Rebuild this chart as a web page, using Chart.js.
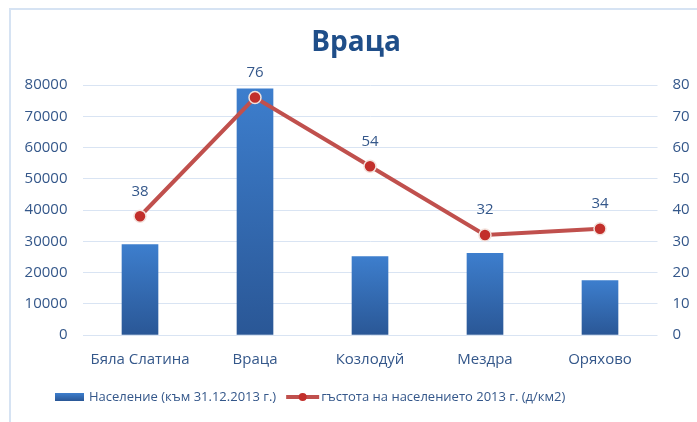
<!DOCTYPE html>
<html>
<head>
<meta charset="utf-8">
<script src="https://cdn.jsdelivr.net/npm/chart.js@4.4.1/dist/chart.umd.min.js"></script>
<style>
html,body{margin:0;padding:0;background:#fff;}
#wrap{width:697px;height:422px;position:relative;}
</style>
</head>
<body>
<div id="wrap"><canvas id="c" width="697" height="422"></canvas></div>
<script>
const title = 'Враца';
const categories = ['Бяла Слатина', 'Враца', 'Козлодуй', 'Мездра', 'Оряхово'];
const population = [28900, 78800, 25100, 26100, 17400];
const density = [38, 76, 54, 32, 34];
const populationLabel = 'Население (към 31.12.2013 г.)';
const densityLabel = 'гъстота на населението 2013 г. (д/км2)';
const leftTicks = [0, 10000, 20000, 30000, 40000, 50000, 60000, 70000, 80000];
const rightTicks = [0, 10, 20, 30, 40, 50, 60, 70, 80];

const FONT = '"Open Sans", "Noto Sans", sans-serif';
const TEXT = '#34578a';
const LINE = '#c0504d';

function barGradient(ctx) {
  const chart = ctx.chart;
  const area = chart.chartArea;
  if (!area || ctx.dataIndex === undefined) return '#3570b8';
  const y = chart.scales.y;
  const top = y.getPixelForValue(population[ctx.dataIndex]);
  const bottom = y.getPixelForValue(0);
  const g = chart.ctx.createLinearGradient(0, top, 0, bottom);
  g.addColorStop(0, '#3d7ecd');
  g.addColorStop(1, '#2a5796');
  return g;
}

const extras = {
  id: 'extras',
  afterDraw(chart) {
    const c = chart.ctx;
    c.save();
    // frame
    c.strokeStyle = '#d6e3f3';
    c.lineWidth = 2;
    c.beginPath();
    c.moveTo(10, 422); c.lineTo(10, 9); c.lineTo(697, 9);
    c.stroke();
    // title
    c.fillStyle = '#1f4e89';
    c.font = 'bold 28px ' + FONT;
    c.textAlign = 'center';
    c.textBaseline = 'middle';
    c.fillText(title, 356, 43);
    // data labels
    const meta = chart.getDatasetMeta(1);
    c.font = '15px ' + FONT;
    c.fillStyle = TEXT;
    meta.data.forEach((pt, i) => {
      c.fillText(String(density[i]), pt.x, pt.y - 25);
    });
    // legend
    const ly = 397;
    const g = c.createLinearGradient(0, ly - 4, 0, ly + 4);
    g.addColorStop(0, '#3d7ecd'); g.addColorStop(1, '#2a5796');
    c.fillStyle = g;
    c.fillRect(55, ly - 4, 29, 8);
    c.textAlign = 'left';
    c.font = '13px ' + FONT;
    c.fillStyle = TEXT;
    let x = 89;
    c.fillText(populationLabel, x, ly);
    x += c.measureText(populationLabel).width + 10;
    c.strokeStyle = LINE;
    c.lineWidth = 4;
    c.beginPath(); c.moveTo(x, ly); c.lineTo(x + 33, ly); c.stroke();
    c.beginPath(); c.arc(x + 16.5, ly, 4, 0, Math.PI * 2);
    c.fillStyle = '#c22f2b'; c.fill();
    c.fillStyle = TEXT;
    c.fillText(densityLabel, x + 35, ly);
    c.restore();
  }
};

new Chart(document.getElementById('c'), {
  data: {
    labels: categories,
    datasets: [
      {
        type: 'bar',
        label: populationLabel,
        data: population,
        yAxisID: 'y',
        backgroundColor: barGradient,
        barThickness: 36,
        order: 2
      },
      {
        type: 'line',
        label: densityLabel,
        data: density,
        yAxisID: 'y1',
        borderColor: LINE,
        borderWidth: 4,
        pointRadius: 6,
        pointHoverRadius: 6,
        pointBackgroundColor: '#c22f2b',
        pointBorderColor: '#f3e2dc',
        pointBorderWidth: 1.5,
        tension: 0,
        order: 1
      }
    ]
  },
  options: {
    responsive: false,
    animation: false,
    events: [],
    layout: { padding: { top: 85, bottom: 47, left: 0, right: 0 } },
    plugins: {
      legend: { display: false },
      title: { display: false },
      tooltip: { enabled: false }
    },
    scales: {
      x: {
        grid: { display: false, drawTicks: false },
        border: { display: false },
        ticks: { color: TEXT, font: { family: FONT, size: 15 }, padding: 16 },
        afterFit(s) { s.height = 40; }
      },
      y: {
        position: 'left',
        min: 0, max: 80000,
        afterBuildTicks(s) { s.ticks = leftTicks.map(v => ({ value: v })); },
        grid: { color: '#d9e4f3', drawTicks: false, lineWidth: 1 },
        border: { display: false },
        ticks: { color: TEXT, font: { family: FONT, size: 15 }, padding: 15, callback: v => String(v) },
        afterFit(s) { s.width = 82.5; }
      },
      y1: {
        position: 'right',
        min: 0, max: 80,
        afterBuildTicks(s) { s.ticks = rightTicks.map(v => ({ value: v })); },
        grid: { display: false, drawTicks: false },
        border: { display: false },
        ticks: { color: TEXT, font: { family: FONT, size: 15 }, padding: 15, callback: v => String(v) },
        afterFit(s) { s.width = 39.5; }
      }
    }
  },
  plugins: [extras]
});
</script>
</body>
</html>
